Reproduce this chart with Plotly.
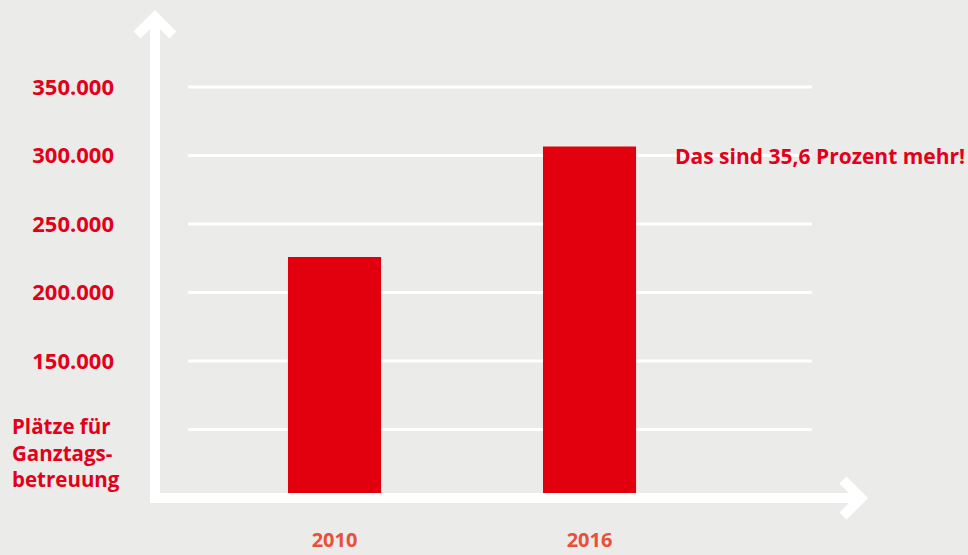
import plotly.graph_objects as go

# ---- data ----
years = ["2010", "2016"]
places = [226000, 306500]
tick_values = [150000, 200000, 250000, 300000, 350000]
tick_labels = ["150.000", "200.000", "250.000", "300.000", "350.000"]
grid_values = [100000, 150000, 200000, 250000, 300000, 350000]
y_title = "Plätze für<br>Ganztags-<br>betreuung"
note = "Das sind 35,6 Prozent mehr!"

# ---- styling ----
BG = "#ebebe9"
RED = "#e2000f"
LABEL_RED = "#e2001a"
YEAR_COL = "#e8503a"
FONT = "Open Sans"

W_FIG, H_FIG = 968, 555
L, R, T, B = 155, 868, 10, 498
PW, PH = R - L, B - T


def px(x):
    return (x - L) / PW


def py(y):
    return (B - y) / PH


fig = go.Figure()
fig.add_trace(go.Bar(x=years, y=places, marker=dict(color=RED, line=dict(width=0)),
                     width=0.365, hoverinfo="skip"))

shapes = []
for v in grid_values:
    shapes.append(dict(type="line", xref="paper", yref="y", x0=px(188), x1=px(812), y0=v, y1=v,
                       line=dict(color="white", width=3), layer="below"))
# axes with arrows
shapes.append(dict(type="line", xref="paper", yref="paper", x0=px(155), x1=px(155), y0=py(503), y1=py(17),
                   line=dict(color="white", width=10), layer="above"))
shapes.append(dict(type="line", xref="paper", yref="paper", x0=px(150), x1=px(861), y0=py(498), y1=py(498),
                   line=dict(color="white", width=10), layer="above"))
shapes.append(dict(type="path", xref="paper", yref="paper",
                   path=f"M {px(137)},{py(35)} L {px(155)},{py(17)} L {px(173)},{py(35)}",
                   line=dict(color="white", width=10), layer="above"))
shapes.append(dict(type="path", xref="paper", yref="paper",
                   path=f"M {px(843)},{py(480)} L {px(861)},{py(498)} L {px(843)},{py(516)}",
                   line=dict(color="white", width=10), layer="above"))

annotations = [
    dict(text=y_title, xref="paper", yref="paper", x=px(10), y=py(452), xanchor="left", yanchor="middle",
         align="left", showarrow=False, font=dict(family=FONT, size=20.5, color=LABEL_RED, weight="bold")),
    dict(text=note, xref="paper", yref="y", x=px(673), y=300000, xanchor="left", yanchor="middle",
         align="left", showarrow=False, font=dict(family=FONT, size=21, color=LABEL_RED, weight="bold")),
]

fig.update_layout(
    width=W_FIG, height=H_FIG,
    margin=dict(l=L, r=W_FIG - R, t=T, b=H_FIG - B, pad=0, autoexpand=False),
    paper_bgcolor=BG, plot_bgcolor=BG,
    showlegend=False,
    shapes=shapes,
    annotations=annotations,
    xaxis=dict(type="category", range=[-0.704, 2.092], showgrid=False, zeroline=False, showline=False,
               ticks="", ticklabelstandoff=28, automargin=False,
               tickfont=dict(family=FONT, size=20, color=YEAR_COL, weight="bold")),
    yaxis=dict(range=[50000, 406200], tickvals=tick_values, ticktext=tick_labels, automargin=False,
               showgrid=False, zeroline=False, showline=False, ticks="", ticklabelstandoff=40,
               tickfont=dict(family=FONT, size=22, color=LABEL_RED, weight="bold")),
)

fig.write_html("out.html", config={"displayModeBar": False},
               post_script="document.body.style.margin='0';")
